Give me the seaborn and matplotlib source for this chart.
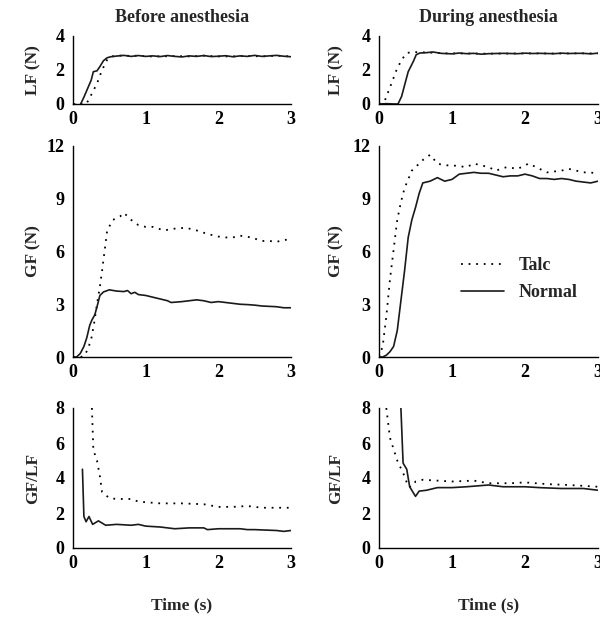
import numpy as np
import pandas as pd
import matplotlib
matplotlib.use("Agg")
import matplotlib.pyplot as plt
import seaborn as sns

sns.set_style("white")
plt.rcParams['font.family'] = ['Liberation Serif', 'DejaVu Serif']
plt.rcParams['font.weight'] = 'bold'

# ---------------- data ----------------
col_titles = ["Before anesthesia", "During anesthesia"]
row_labels = ["LF (N)", "GF (N)", "GF/LF"]
xticks = [0, 1, 2, 3]
yticks_lf = [0, 2, 4]
yticks_gf = [0, 3, 6, 9, 12]
yticks_ratio = [0, 2, 4, 6, 8]

# LF before anesthesia
lf_b_norm_t = [0, 0.05, 0.1, 0.15, 0.2, 0.25, 0.28, 0.33, 0.37, 0.42, 0.47, 0.52, 0.6, 0.7, 0.8, 0.9, 1.0, 1.1, 1.2, 1.3, 1.4, 1.5, 1.6, 1.7, 1.8, 1.9, 2.0, 2.1, 2.2, 2.3, 2.4, 2.5, 2.6, 2.7, 2.8, 2.9, 3.0]
lf_b_norm_v = [0, -0.05, -0.05, 0.4, 0.9, 1.4, 1.9, 1.95, 2.2, 2.55, 2.72, 2.78, 2.82, 2.86, 2.8, 2.85, 2.8, 2.83, 2.79, 2.85, 2.8, 2.77, 2.83, 2.8, 2.85, 2.79, 2.81, 2.84, 2.78, 2.83, 2.8, 2.86, 2.8, 2.83, 2.86, 2.81, 2.78]
lf_b_talc_t = [0, 0.1, 0.18, 0.21, 0.27, 0.33, 0.4, 0.47, 0.53, 0.6, 0.7, 0.8, 0.9, 1.0, 1.2, 1.4, 1.6, 1.8, 2.0, 2.2, 2.4, 2.6, 2.8, 3.0]
lf_b_talc_v = [0, 0.0, 0.0, 0.2, 0.7, 1.2, 2.0, 2.6, 2.8, 2.83, 2.86, 2.82, 2.85, 2.8, 2.8, 2.82, 2.8, 2.84, 2.8, 2.8, 2.83, 2.8, 2.84, 2.8]

# LF during anesthesia
lf_d_norm_t = [0, 0.1, 0.2, 0.26, 0.31, 0.35, 0.4, 0.47, 0.51, 0.56, 0.65, 0.74, 0.85, 1.0, 1.1, 1.2, 1.3, 1.4, 1.5, 1.6, 1.7, 1.8, 1.9, 2.0, 2.1, 2.2, 2.3, 2.4, 2.5, 2.6, 2.7, 2.8, 2.9, 3.0]
lf_d_norm_v = [0, 0.02, 0.0, 0.0, 0.45, 1.1, 1.9, 2.5, 2.9, 3.0, 3.02, 3.06, 2.98, 2.95, 3.0, 2.96, 2.98, 2.93, 2.96, 2.97, 2.98, 2.97, 2.96, 2.99, 2.97, 2.98, 2.97, 2.96, 2.99, 2.97, 2.98, 2.98, 2.95, 2.99]
lf_d_talc_t = [0, 0.04, 0.08, 0.17, 0.24, 0.31, 0.38, 0.45, 0.55, 0.7, 0.9, 1.2, 1.5, 1.8, 2.1, 2.4, 2.7, 3.0]
lf_d_talc_v = [0, 0.05, 0.2, 1.2, 2.0, 2.6, 3.0, 3.05, 3.05, 3.02, 2.98, 2.97, 2.96, 2.97, 2.98, 2.97, 2.98, 2.98]

# GF before anesthesia
gf_b_norm_t = [0, 0.05, 0.1, 0.15, 0.19, 0.23, 0.26, 0.3, 0.33, 0.37, 0.42, 0.5, 0.6, 0.7, 0.75, 0.8, 0.85, 0.9, 1.0, 1.1, 1.2, 1.3, 1.35, 1.5, 1.6, 1.7, 1.8, 1.9, 2.0, 2.1, 2.2, 2.3, 2.4, 2.5, 2.6, 2.7, 2.8, 2.9, 3.0]
gf_b_norm_v = [0, 0.0, 0.2, 0.6, 1.1, 1.8, 2.1, 2.4, 2.85, 3.5, 3.7, 3.82, 3.75, 3.72, 3.78, 3.6, 3.68, 3.55, 3.5, 3.4, 3.3, 3.2, 3.1, 3.15, 3.2, 3.25, 3.2, 3.1, 3.15, 3.1, 3.05, 3.0, 2.98, 2.95, 2.9, 2.88, 2.86, 2.8, 2.8]
gf_b_talc_t = [0, 0.1, 0.15, 0.2, 0.25, 0.29, 0.33, 0.37, 0.4, 0.44, 0.47, 0.55, 0.65, 0.7, 0.8, 0.9, 1.0, 1.1, 1.25, 1.4, 1.55, 1.7, 1.85, 2.0, 2.1, 2.2, 2.3, 2.45, 2.6, 2.7, 2.8, 2.9, 3.0]
gf_b_talc_v = [0, 0.0, 0.05, 0.4, 1.0, 1.9, 3.0, 4.0, 4.9, 6.2, 7.2, 7.8, 8.0, 8.2, 7.8, 7.5, 7.4, 7.4, 7.2, 7.3, 7.35, 7.2, 7.0, 6.85, 6.8, 6.8, 6.9, 6.8, 6.6, 6.6, 6.55, 6.65, 6.7]

# GF during anesthesia
gf_d_norm_t = [0, 0.05, 0.1, 0.15, 0.2, 0.25, 0.3, 0.35, 0.4, 0.45, 0.5, 0.55, 0.6, 0.7, 0.8, 0.9, 1.0, 1.1, 1.2, 1.3, 1.4, 1.5, 1.6, 1.7, 1.8, 1.9, 2.0, 2.1, 2.2, 2.3, 2.4, 2.5, 2.6, 2.7, 2.8, 2.9, 3.0]
gf_d_norm_v = [0, 0.0, 0.1, 0.3, 0.6, 1.5, 3.2, 4.9, 6.8, 7.8, 8.5, 9.3, 9.9, 10.0, 10.2, 10.0, 10.1, 10.4, 10.45, 10.5, 10.45, 10.45, 10.35, 10.25, 10.3, 10.3, 10.4, 10.3, 10.15, 10.15, 10.1, 10.15, 10.1, 10.0, 9.95, 9.9, 10.0]
gf_d_talc_t = [0, 0.05, 0.1, 0.15, 0.2, 0.25, 0.3, 0.35, 0.4, 0.45, 0.5, 0.6, 0.7, 0.8, 0.9, 1.0, 1.1, 1.2, 1.3, 1.4, 1.5, 1.6, 1.75, 1.9, 2.05, 2.2, 2.3, 2.4, 2.5, 2.6, 2.7, 2.8, 2.9, 3.0]
gf_d_talc_v = [0, 0.6, 2.3, 4.4, 6.1, 7.8, 8.8, 9.6, 10.1, 10.6, 10.8, 11.2, 11.5, 11.0, 10.9, 10.9, 10.85, 10.8, 11.0, 10.9, 10.8, 10.6, 10.8, 10.7, 11.0, 10.7, 10.5, 10.55, 10.6, 10.7, 10.6, 10.5, 10.5, 10.4]

# GF/LF before anesthesia
r_b_norm_t = [0.13, 0.15, 0.18, 0.22, 0.27, 0.35, 0.45, 0.6, 0.8, 0.9, 1.0, 1.2, 1.4, 1.6, 1.8, 1.85, 2.0, 2.3, 2.4, 2.5, 2.8, 2.9, 3.0]
r_b_norm_v = [4.5, 1.8, 1.5, 1.8, 1.35, 1.55, 1.3, 1.35, 1.3, 1.35, 1.25, 1.2, 1.1, 1.15, 1.15, 1.05, 1.1, 1.1, 1.05, 1.05, 1.0, 0.95, 1.0]
r_b_talc_t = [0.26, 0.28, 0.33, 0.37, 0.4, 0.5, 0.6, 0.8, 0.9, 1.2, 1.5, 1.8, 2.0, 2.2, 2.4, 2.6, 3.0]
r_b_talc_v = [8.0, 5.6, 5.0, 4.1, 3.2, 2.85, 2.8, 2.8, 2.65, 2.55, 2.55, 2.5, 2.35, 2.35, 2.4, 2.3, 2.3]

# GF/LF during anesthesia
r_d_norm_t = [0.3, 0.33, 0.38, 0.42, 0.5, 0.55, 0.65, 0.8, 1.0, 1.2, 1.5, 1.7, 2.0, 2.2, 2.5, 2.8, 3.0]
r_d_norm_v = [8.0, 4.85, 4.5, 3.5, 2.95, 3.25, 3.3, 3.45, 3.45, 3.5, 3.6, 3.5, 3.5, 3.45, 3.4, 3.4, 3.3]
r_d_talc_t = [0.1, 0.15, 0.25, 0.35, 0.4, 0.45, 0.5, 0.6, 0.8, 1.0, 1.3, 1.5, 1.8, 2.0, 2.3, 2.6, 3.0]
r_d_talc_v = [8.0, 6.3, 5.0, 4.1, 3.5, 3.5, 3.8, 3.9, 3.85, 3.8, 3.85, 3.7, 3.7, 3.75, 3.65, 3.6, 3.5]

# ---------------- figure ----------------
fig = plt.figure(figsize=(6.0, 6.18), dpi=100)

W, H = 600.0, 618.0
col_x = [(73, 291), (379, 598)]
row_y = [(36, 104), (146, 357), (408, 548)]
ylabel_px = [41, 344]

series = [
    [((lf_b_talc_t, lf_b_talc_v), (lf_b_norm_t, lf_b_norm_v)),
     ((lf_d_talc_t, lf_d_talc_v), (lf_d_norm_t, lf_d_norm_v))],
    [((gf_b_talc_t, gf_b_talc_v), (gf_b_norm_t, gf_b_norm_v)),
     ((gf_d_talc_t, gf_d_talc_v), (gf_d_norm_t, gf_d_norm_v))],
    [((r_b_talc_t, r_b_talc_v), (r_b_norm_t, r_b_norm_v)),
     ((r_d_talc_t, r_d_talc_v), (r_d_norm_t, r_d_norm_v))],
]
yticks_rows = [yticks_lf, yticks_gf, yticks_ratio]

tick_fs = 13
lab_fs = 12.5

for r in range(3):
    for c in range(2):
        x0, x1 = col_x[c]
        ytop, ybot = row_y[r]
        ax = fig.add_axes([x0 / W, 1 - ybot / H, (x1 - x0) / W, (ybot - ytop) / H])
        (tt, tv), (nt, nv) = series[r][c]
        df_t = pd.DataFrame({"t": tt, "v": tv})
        df_n = pd.DataFrame({"t": nt, "v": nv})
        sns.lineplot(data=df_t, x="t", y="v", ax=ax, color="black",
                     linestyle=(0, (1, 3.2)), linewidth=1.3, label="Talc",
                     estimator=None, sort=False)
        sns.lineplot(data=df_n, x="t", y="v", ax=ax, color="#1a1a1a",
                     linewidth=1.2, label="Normal", estimator=None, sort=False)
        yt = yticks_rows[r]
        ax.set_xlim(0, 3)
        ax.set_ylim(yt[0], yt[-1])
        ax.set_xticks(xticks)
        ax.set_yticks(yt)
        ax.set_xticklabels([str(v) for v in xticks], fontsize=tick_fs, fontweight='bold')
        ax.set_yticklabels([str(v) for v in yt], fontsize=tick_fs, fontweight='bold')
        ax.tick_params(direction='in', length=4, width=1, colors='black', pad=6)
        ax.tick_params(axis='x', pad=5)
        for s in ['top', 'right']:
            ax.spines[s].set_visible(False)
        for s in ['left', 'bottom']:
            ax.spines[s].set_color('black')
            ax.spines[s].set_linewidth(1.0)
        ax.set_xlabel("")
        ax.set_ylabel(row_labels[r], fontsize=lab_fs, fontweight='bold')
        ax.yaxis.set_label_coords((ylabel_px[c] - x0) / (x1 - x0), 0.5)
        if r == 0:
            ax.set_title(col_titles[c], fontsize=13, fontweight='bold', pad=10)
        if r == 2:
            ax.set_xlabel("Time (s)", fontsize=lab_fs, fontweight='bold', labelpad=18)
        leg = ax.get_legend()
        if r == 1 and c == 1:
            ax.legend(loc='center left', bbox_to_anchor=(0.30, 0.37), frameon=False,
                      prop={'family': 'Liberation Serif', 'weight': 'bold', 'size': 13},
                      handlelength=2.4, handletextpad=0.8, labelspacing=0.55)
        elif leg is not None:
            leg.remove()

fig.savefig("out.png", dpi=100, facecolor="white")
